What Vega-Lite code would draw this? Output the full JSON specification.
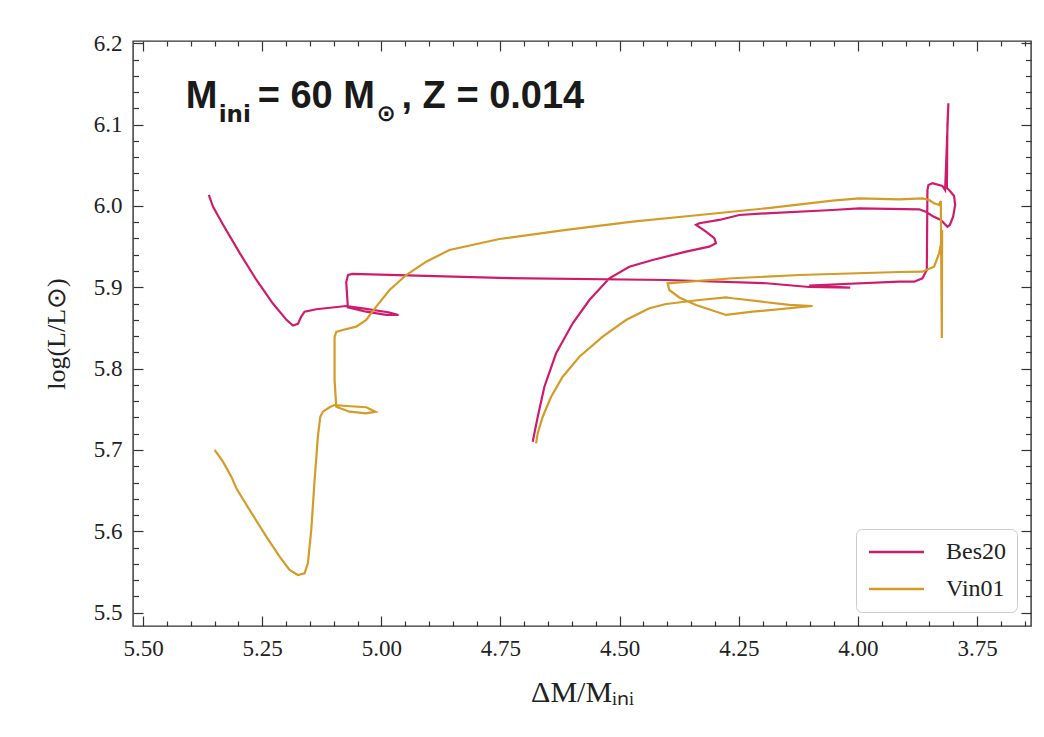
{
  "$schema": "https://vega.github.io/schema/vega-lite/v6.json",
  "width": 898,
  "height": 585,
  "autosize": {"type": "none"},
  "padding": {"left": 133, "top": 41, "right": 13, "bottom": 111},
  "background": "white",
  "config": {
    "view": {"stroke": "#333333", "strokeWidth": 1.4},
    "axis": {"grid": false, "domain": false, "tickColor": "#333333", "tickWidth": 1.2, "labelFont": "Liberation Serif", "labelFontSize": 23, "labelColor": "#222222", "labelOverlap": false, "labelFlush": false}
  },
  "resolve": {"axis": {"x": "independent", "y": "independent"}},
  "layer": [
    {
      "data": {"values": [
        {"m":"Bes20","i":1,"dm":5.362,"logL":6.0135},
        {"m":"Bes20","i":2,"dm":5.353,"logL":5.999},
        {"m":"Bes20","i":3,"dm":5.332,"logL":5.977},
        {"m":"Bes20","i":4,"dm":5.297,"logL":5.942},
        {"m":"Bes20","i":5,"dm":5.262,"logL":5.909},
        {"m":"Bes20","i":6,"dm":5.2275,"logL":5.880},
        {"m":"Bes20","i":7,"dm":5.199,"logL":5.860},
        {"m":"Bes20","i":8,"dm":5.1855,"logL":5.853},
        {"m":"Bes20","i":9,"dm":5.175,"logL":5.855},
        {"m":"Bes20","i":10,"dm":5.168,"logL":5.864},
        {"m":"Bes20","i":11,"dm":5.161,"logL":5.870},
        {"m":"Bes20","i":12,"dm":5.1365,"logL":5.873},
        {"m":"Bes20","i":13,"dm":5.0736,"logL":5.877},
        {"m":"Bes20","i":14,"dm":5.0388,"logL":5.874},
        {"m":"Bes20","i":15,"dm":4.9828,"logL":5.869},
        {"m":"Bes20","i":16,"dm":4.964,"logL":5.866},
        {"m":"Bes20","i":17,"dm":4.9897,"logL":5.866},
        {"m":"Bes20","i":18,"dm":5.0317,"logL":5.870},
        {"m":"Bes20","i":19,"dm":5.0702,"logL":5.8754},
        {"m":"Bes20","i":20,"dm":5.0736,"logL":5.9065},
        {"m":"Bes20","i":21,"dm":5.0698,"logL":5.9151},
        {"m":"Bes20","i":22,"dm":5.0604,"logL":5.9164},
        {"m":"Bes20","i":23,"dm":4.7522,"logL":5.9115},
        {"m":"Bes20","i":24,"dm":4.4021,"logL":5.909},
        {"m":"Bes20","i":25,"dm":4.1925,"logL":5.905},
        {"m":"Bes20","i":26,"dm":4.1023,"logL":5.9004},
        {"m":"Bes20","i":27,"dm":4.0164,"logL":5.8995},
        {"m":"Bes20","i":28,"dm":4.1023,"logL":5.9022},
        {"m":"Bes20","i":29,"dm":3.9136,"logL":5.9069},
        {"m":"Bes20","i":30,"dm":3.8822,"logL":5.9069},
        {"m":"Bes20","i":31,"dm":3.8648,"logL":5.9111},
        {"m":"Bes20","i":32,"dm":3.8556,"logL":5.9213},
        {"m":"Bes20","i":33,"dm":3.8543,"logL":6.0196},
        {"m":"Bes20","i":34,"dm":3.8522,"logL":6.0258},
        {"m":"Bes20","i":35,"dm":3.8438,"logL":6.0279},
        {"m":"Bes20","i":36,"dm":3.8229,"logL":6.0246},
        {"m":"Bes20","i":37,"dm":3.8172,"logL":6.0196},
        {"m":"Bes20","i":38,"dm":3.8145,"logL":6.0602},
        {"m":"Bes20","i":39,"dm":3.8103,"logL":6.1262},
        {"m":"Bes20","i":40,"dm":3.8124,"logL":6.0996},
        {"m":"Bes20","i":41,"dm":3.8134,"logL":6.0221},
        {"m":"Bes20","i":42,"dm":3.8088,"logL":6.0196},
        {"m":"Bes20","i":43,"dm":3.7983,"logL":6.0123},
        {"m":"Bes20","i":44,"dm":3.7962,"logL":6.0012},
        {"m":"Bes20","i":45,"dm":3.8004,"logL":5.9868},
        {"m":"Bes20","i":46,"dm":3.8073,"logL":5.9766},
        {"m":"Bes20","i":47,"dm":3.8124,"logL":5.9745},
        {"m":"Bes20","i":48,"dm":3.8262,"logL":5.9828},
        {"m":"Bes20","i":49,"dm":3.8438,"logL":5.9877},
        {"m":"Bes20","i":50,"dm":3.8577,"logL":5.993},
        {"m":"Bes20","i":51,"dm":3.8717,"logL":5.9959},
        {"m":"Bes20","i":52,"dm":3.9975,"logL":5.9971},
        {"m":"Bes20","i":53,"dm":4.0535,"logL":5.995},
        {"m":"Bes20","i":54,"dm":4.1931,"logL":5.991},
        {"m":"Bes20","i":55,"dm":4.249,"logL":5.9889},
        {"m":"Bes20","i":56,"dm":4.291,"logL":5.9828},
        {"m":"Bes20","i":57,"dm":4.3329,"logL":5.9787},
        {"m":"Bes20","i":58,"dm":4.3398,"logL":5.9766},
        {"m":"Bes20","i":59,"dm":4.3189,"logL":5.9684},
        {"m":"Bes20","i":60,"dm":4.3015,"logL":5.9603},
        {"m":"Bes20","i":61,"dm":4.2979,"logL":5.9541},
        {"m":"Bes20","i":62,"dm":4.312,"logL":5.95},
        {"m":"Bes20","i":63,"dm":4.3608,"logL":5.9438},
        {"m":"Bes20","i":64,"dm":4.4308,"logL":5.9336},
        {"m":"Bes20","i":65,"dm":4.4797,"logL":5.9253},
        {"m":"Bes20","i":66,"dm":4.5216,"logL":5.9111},
        {"m":"Bes20","i":67,"dm":4.5635,"logL":5.8844},
        {"m":"Bes20","i":68,"dm":4.5985,"logL":5.8558},
        {"m":"Bes20","i":69,"dm":4.6333,"logL":5.8189},
        {"m":"Bes20","i":70,"dm":4.6579,"logL":5.7778},
        {"m":"Bes20","i":71,"dm":4.6719,"logL":5.7409},
        {"m":"Bes20","i":72,"dm":4.6824,"logL":5.7102},
        {"m":"Vin01","i":1,"dm":5.3497,"logL":5.700},
        {"m":"Vin01","i":2,"dm":5.3323,"logL":5.6856},
        {"m":"Vin01","i":3,"dm":5.3147,"logL":5.6672},
        {"m":"Vin01","i":4,"dm":5.3042,"logL":5.6529},
        {"m":"Vin01","i":5,"dm":5.2763,"logL":5.6262},
        {"m":"Vin01","i":6,"dm":5.2413,"logL":5.5934},
        {"m":"Vin01","i":7,"dm":5.2134,"logL":5.5688},
        {"m":"Vin01","i":8,"dm":5.1925,"logL":5.5525},
        {"m":"Vin01","i":9,"dm":5.175,"logL":5.5463},
        {"m":"Vin01","i":10,"dm":5.161,"logL":5.5484},
        {"m":"Vin01","i":11,"dm":5.1541,"logL":5.5607},
        {"m":"Vin01","i":12,"dm":5.147,"logL":5.6017},
        {"m":"Vin01","i":13,"dm":5.14,"logL":5.6631},
        {"m":"Vin01","i":14,"dm":5.1331,"logL":5.7164},
        {"m":"Vin01","i":15,"dm":5.1281,"logL":5.7409},
        {"m":"Vin01","i":16,"dm":5.1226,"logL":5.7471},
        {"m":"Vin01","i":17,"dm":5.1086,"logL":5.7525},
        {"m":"Vin01","i":18,"dm":5.0981,"logL":5.7553},
        {"m":"Vin01","i":19,"dm":5.0736,"logL":5.7541},
        {"m":"Vin01","i":20,"dm":5.0317,"logL":5.7525},
        {"m":"Vin01","i":21,"dm":5.0122,"logL":5.7471},
        {"m":"Vin01","i":22,"dm":5.0317,"logL":5.7451},
        {"m":"Vin01","i":23,"dm":5.0667,"logL":5.7471},
        {"m":"Vin01","i":24,"dm":5.0945,"logL":5.7532},
        {"m":"Vin01","i":25,"dm":5.0981,"logL":5.786},
        {"m":"Vin01","i":26,"dm":5.0981,"logL":5.8389},
        {"m":"Vin01","i":27,"dm":5.0945,"logL":5.8451},
        {"m":"Vin01","i":28,"dm":5.0813,"logL":5.8475},
        {"m":"Vin01","i":29,"dm":5.0526,"logL":5.8516},
        {"m":"Vin01","i":30,"dm":5.0317,"logL":5.8598},
        {"m":"Vin01","i":31,"dm":5.0107,"logL":5.8762},
        {"m":"Vin01","i":32,"dm":4.9828,"logL":5.8967},
        {"m":"Vin01","i":33,"dm":4.9478,"logL":5.9151},
        {"m":"Vin01","i":34,"dm":4.9059,"logL":5.9315},
        {"m":"Vin01","i":35,"dm":4.857,"logL":5.9459},
        {"m":"Vin01","i":36,"dm":4.7522,"logL":5.9594},
        {"m":"Vin01","i":37,"dm":4.6124,"logL":5.9705},
        {"m":"Vin01","i":38,"dm":4.4727,"logL":5.9807},
        {"m":"Vin01","i":39,"dm":4.3329,"logL":5.9889},
        {"m":"Vin01","i":40,"dm":4.1931,"logL":5.9971},
        {"m":"Vin01","i":41,"dm":4.0535,"logL":6.0065},
        {"m":"Vin01","i":42,"dm":3.9975,"logL":6.0094},
        {"m":"Vin01","i":43,"dm":3.9136,"logL":6.0082},
        {"m":"Vin01","i":44,"dm":3.8648,"logL":6.0092},
        {"m":"Vin01","i":45,"dm":3.8507,"logL":6.0073},
        {"m":"Vin01","i":46,"dm":3.8403,"logL":6.0033},
        {"m":"Vin01","i":47,"dm":3.8298,"logL":6.0012},
        {"m":"Vin01","i":48,"dm":3.8262,"logL":6.0061},
        {"m":"Vin01","i":49,"dm":3.8241,"logL":5.8377},
        {"m":"Vin01","i":50,"dm":3.8235,"logL":5.9705},
        {"m":"Vin01","i":51,"dm":3.8262,"logL":5.952},
        {"m":"Vin01","i":52,"dm":3.8298,"logL":5.9418},
        {"m":"Vin01","i":53,"dm":3.8403,"logL":5.9253},
        {"m":"Vin01","i":54,"dm":3.8648,"logL":5.9192},
        {"m":"Vin01","i":55,"dm":3.9136,"logL":5.9188},
        {"m":"Vin01","i":56,"dm":4.1233,"logL":5.9151},
        {"m":"Vin01","i":57,"dm":4.2631,"logL":5.9111},
        {"m":"Vin01","i":58,"dm":4.3994,"logL":5.9049},
        {"m":"Vin01","i":59,"dm":4.3958,"logL":5.8967},
        {"m":"Vin01","i":60,"dm":4.3748,"logL":5.8875},
        {"m":"Vin01","i":61,"dm":4.3398,"logL":5.8783},
        {"m":"Vin01","i":62,"dm":4.2769,"logL":5.866},
        {"m":"Vin01","i":63,"dm":4.2212,"logL":5.87},
        {"m":"Vin01","i":64,"dm":4.0954,"logL":5.877},
        {"m":"Vin01","i":65,"dm":4.1442,"logL":5.8783},
        {"m":"Vin01","i":66,"dm":4.2631,"logL":5.8865},
        {"m":"Vin01","i":67,"dm":4.2769,"logL":5.8877},
        {"m":"Vin01","i":68,"dm":4.3329,"logL":5.8844},
        {"m":"Vin01","i":69,"dm":4.4027,"logL":5.8795},
        {"m":"Vin01","i":70,"dm":4.4377,"logL":5.8742},
        {"m":"Vin01","i":71,"dm":4.4866,"logL":5.8598},
        {"m":"Vin01","i":72,"dm":4.5356,"logL":5.8393},
        {"m":"Vin01","i":73,"dm":4.5845,"logL":5.8147},
        {"m":"Vin01","i":74,"dm":4.6195,"logL":5.7901},
        {"m":"Vin01","i":75,"dm":4.6438,"logL":5.7655},
        {"m":"Vin01","i":76,"dm":4.6614,"logL":5.7409},
        {"m":"Vin01","i":77,"dm":4.6719,"logL":5.7205},
        {"m":"Vin01","i":78,"dm":4.6753,"logL":5.7082}
      ]},
      "mark": {"type": "line", "strokeWidth": 2.2, "clip": true},
      "encoding": {
        "x": {"field": "dm", "type": "quantitative", "title": "ΔM/Mᵢₙᵢ",
          "scale": {"domain": [3.637, 5.521], "reverse": true, "nice": false, "zero": false},
          "axis": {"orient": "bottom",
            "values": [5.5,5.45,5.4,5.35,5.3,5.25,5.2,5.15,5.1,5.05,5.0,4.95,4.9,4.85,4.8,4.75,4.7,4.65,4.6,4.55,4.5,4.45,4.4,4.35,4.3,4.25,4.2,4.15,4.1,4.05,4.0,3.95,3.9,3.85,3.8,3.75,3.7,3.65],
            "labelExpr": "abs(datum.value*4-round(datum.value*4))<0.001 ? format(datum.value,'.2f') : ''",
            "tickSize": {"condition": {"test": "abs(datum.value*4-round(datum.value*4))<0.001", "value": -10}, "value": -5},
            "labelPadding": 21, "titlePadding": 12,
            "titleFont": "Liberation Serif", "titleFontSize": 30, "titleFontWeight": "normal", "titleColor": "#222222"}},
        "y": {"field": "logL", "type": "quantitative", "title": "log(L/L⊙)",
          "scale": {"domain": [5.4836, 6.2028], "nice": false, "zero": false},
          "axis": {"orient": "left",
            "values": [5.5,5.52,5.54,5.56,5.58,5.6,5.62,5.64,5.66,5.68,5.7,5.72,5.74,5.76,5.78,5.8,5.82,5.84,5.86,5.88,5.9,5.92,5.94,5.96,5.98,6.0,6.02,6.04,6.06,6.08,6.1,6.12,6.14,6.16,6.18,6.2],
            "labelExpr": "abs(datum.value*10-round(datum.value*10))<0.001 ? format(datum.value,'.1f') : ''",
            "tickSize": {"condition": {"test": "abs(datum.value*10-round(datum.value*10))<0.001", "value": -10}, "value": -5.5},
            "labelPadding": 21, "titlePadding": 24,
            "titleFont": "Liberation Serif", "titleFontSize": 26, "titleFontWeight": "normal", "titleColor": "#222222"}},
        "color": {"field": "m", "type": "nominal",
          "scale": {"domain": ["Bes20", "Vin01"], "range": ["#cf1b6b", "#d49b27"]},
          "legend": {"title": null, "orient": "bottom-right", "offset": 14, "fillColor": "white", "strokeColor": "#cccccc", "cornerRadius": 6, "padding": 11, "labelFont": "Liberation Serif", "labelFontSize": 24, "labelColor": "#222222", "symbolType": "M-1,0H4.5", "symbolStrokeWidth": 2.5, "symbolSize": 400, "labelOffset": 55, "rowPadding": 13}},
        "order": {"field": "i", "type": "quantitative"}
      }
    },
    {
      "data": {"values": [
        {"t": "M", "dm": 5.4105, "logL": 6.1201},
        {"t": "= 60 M", "dm": 5.2595, "logL": 6.1201},
        {"t": ", Z = 0.014", "dm": 4.9577, "logL": 6.1201}
      ]},
      "mark": {"type": "text", "font": "Liberation Sans", "fontWeight": "bold", "fontSize": 38, "align": "left", "baseline": "alphabetic", "color": "#1a1a1a"},
      "encoding": {
        "x": {"field": "dm", "type": "quantitative",
          "axis": {"orient": "top", "title": null, "labels": false,
            "values": [5.5,5.45,5.4,5.35,5.3,5.25,5.2,5.15,5.1,5.05,5.0,4.95,4.9,4.85,4.8,4.75,4.7,4.65,4.6,4.55,4.5,4.45,4.4,4.35,4.3,4.25,4.2,4.15,4.1,4.05,4.0,3.95,3.9,3.85,3.8,3.75,3.7,3.65],
            "tickSize": {"condition": {"test": "abs(datum.value*4-round(datum.value*4))<0.001", "value": -10}, "value": -5}}},
        "y": {"field": "logL", "type": "quantitative",
          "axis": {"orient": "right", "title": null, "labels": false,
            "values": [5.5,5.52,5.54,5.56,5.58,5.6,5.62,5.64,5.66,5.68,5.7,5.72,5.74,5.76,5.78,5.8,5.82,5.84,5.86,5.88,5.9,5.92,5.94,5.96,5.98,6.0,6.02,6.04,6.06,6.08,6.1,6.12,6.14,6.16,6.18,6.2],
            "tickSize": {"condition": {"test": "abs(datum.value*10-round(datum.value*10))<0.001", "value": -10}, "value": -5.5}}},
        "text": {"field": "t", "type": "nominal"}
      }
    },
    {
      "data": {"values": [
        {"t": "ini", "dm": 5.3413, "logL": 6.1036},
        {"t": "⊙", "dm": 5.01, "logL": 6.1045}
      ]},
      "mark": {"type": "text", "font": "DejaVu Sans", "fontWeight": "bold", "fontSize": 23, "align": "left", "baseline": "alphabetic", "color": "#1a1a1a"},
      "encoding": {
        "x": {"field": "dm", "type": "quantitative", "axis": null},
        "y": {"field": "logL", "type": "quantitative", "axis": null},
        "text": {"field": "t", "type": "nominal"}
      }
    }
  ]
}
